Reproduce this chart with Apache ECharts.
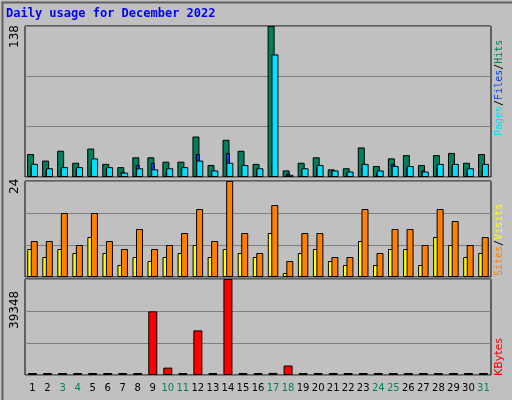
<!DOCTYPE html><html><head><meta charset="utf-8">
<script src="https://cdn.jsdelivr.net/npm/echarts@6/dist/echarts.min.js"></script>
<style>html,body{margin:0;padding:0;background:#C0C0C0}#c{width:512px;height:400px}</style></head><body><div id="c"></div>
<script>
const days = Array.from({length:31},(_,i)=>String(i+1));
const weekend = ['3','4','10','11','17','18','24','25','31'];
const hits  = [21,15,24,13,26,12,9,18,18,14,14,37,11,34,24,12,138,6,13,18,7,8,27,10,17,20,11,20,22,13,21];
const files = [10,7,8,7,12,8,5,11,13,5,9,21,6,22,8,7,12,3,7,10,6,4,8,4,12,9,6,10,10,6,6];
const pages = [12,8,9,9,17,9,4,8,7,8,9,15,6,13,11,8,112,2,8,11,6,5,12,6,10,10,5,12,12,8,12];
const visits= [9,9,16,8,16,9,7,12,7,8,11,17,9,24,11,6,18,4,11,11,5,5,17,6,12,12,8,17,14,8,10];
const sites = [7,5,7,6,10,6,3,5,4,5,6,8,5,7,6,5,11,1,6,7,4,3,9,3,7,7,3,10,8,5,6];
const kbytes= [200,200,200,200,200,200,200,200,26070,3020,200,18290,200,39348,200,200,860,3890,200,200,200,200,200,200,200,200,200,200,200,200,200];
const maxTop=138, maxMid=24, maxBot=39348;

const G=[{left:25,right:21,top:26,height:151},{left:25,right:21,top:181,height:96},{left:25,right:21,top:279,height:96}];
const grid=G.map(g=>Object.assign({show:true,borderColor:'#000',borderWidth:1,backgroundColor:'#C0C0C0'},g));
const hx=(gi)=>({type:'category',gridIndex:gi,data:days,show:false});
const split={show:true,lineStyle:{color:'#808080',width:1}};
const yax=(gi,max)=>({type:'value',gridIndex:gi,min:0,max:max,interval:max/3,axisLabel:{show:false},axisLine:{show:false},axisTick:{show:false},splitLine:split});
const bs=(c)=>({color:c,borderColor:'#000',borderWidth:1});
const M='10px "DejaVu Sans Mono"';
const ch=echarts.init(document.getElementById('c'),null,{renderer:'canvas'});
ch.setOption({
 animation:false,backgroundColor:'#C0C0C0',
 grid:grid,
 xAxis:[hx(0),hx(0),hx(1),
  {type:'category',gridIndex:2,data:days,axisLine:{show:false},axisTick:{show:false},
   axisLabel:{interval:0,margin:8,fontFamily:'DejaVu Sans',fontSize:10,color:'#000',
   formatter:v=>weekend.includes(v)?'{w|'+v+'}':v,rich:{w:{color:'#00805C',fontFamily:'DejaVu Sans',fontSize:10}}}}],
 yAxis:[yax(0,maxTop),yax(1,maxMid),yax(2,maxBot)],
 series:[
  {type:'bar',xAxisIndex:0,yAxisIndex:0,data:hits,barWidth:7,barGap:'-45%',itemStyle:bs('#00805C'),z:2},
  {type:'bar',xAxisIndex:0,yAxisIndex:0,data:pages,barWidth:7,itemStyle:bs('#00E0FF'),z:4},
  {type:'bar',xAxisIndex:1,yAxisIndex:0,data:files,barWidth:4,itemStyle:bs('#0040FF'),z:3},
  {type:'bar',xAxisIndex:2,yAxisIndex:1,data:sites,barWidth:5,barGap:'-30%',itemStyle:bs('#FFFF00'),z:2},
  {type:'bar',xAxisIndex:2,yAxisIndex:1,data:visits,barWidth:7,itemStyle:bs('#FF8000'),z:3},
  {type:'bar',xAxisIndex:3,yAxisIndex:2,data:kbytes,barWidth:9,barMinHeight:2,itemStyle:bs('#FF0000')}
 ],
 graphic:[
  {type:'rect',left:0,top:0,shape:{width:511,height:399},style:{fill:'none',stroke:'#606060',lineWidth:2}},
  {type:'text',left:6,top:8,style:{text:'Daily usage for December 2022',fill:'#0000FF',font:'bold 12px "DejaVu Sans Mono"'}},
  {type:'text',x:9,y:48,rotation:Math.PI/2,style:{text:String(maxTop),fill:'#000',font:'12px "DejaVu Sans"',textAlign:'left',textVerticalAlign:'top'}},
  {type:'text',x:9,y:194,rotation:Math.PI/2,style:{text:String(maxMid),fill:'#000',font:'12px "DejaVu Sans"',textAlign:'left',textVerticalAlign:'top'}},
  {type:'text',x:9,y:329,rotation:Math.PI/2,style:{text:String(maxBot),fill:'#000',font:'12px "DejaVu Sans"',textAlign:'left',textVerticalAlign:'top'}},
  {type:'text',x:494,y:136,rotation:Math.PI/2,style:{text:'{p|Pages}{s|/}{f|Files}{s|/}{h|Hits}',font:M,textAlign:'left',textVerticalAlign:'top',
    rich:{p:{fill:'#00E0FF',font:M},f:{fill:'#0040FF',font:M},h:{fill:'#00805C',font:M},s:{fill:'#000',font:M}}}},
  {type:'text',x:494,y:276,rotation:Math.PI/2,style:{text:'{a|Sites}{s|/}{b|Visits}',font:M,textAlign:'left',textVerticalAlign:'top',
    rich:{a:{fill:'#FF8000',font:M},b:{fill:'#FFFF00',font:M},s:{fill:'#000',font:M}}}},
  {type:'text',x:494,y:376,rotation:Math.PI/2,style:{text:'KBytes',fill:'#FF0000',font:'11px "DejaVu Sans"',textAlign:'left',textVerticalAlign:'top'}}
 ]
});
</script></body></html>
